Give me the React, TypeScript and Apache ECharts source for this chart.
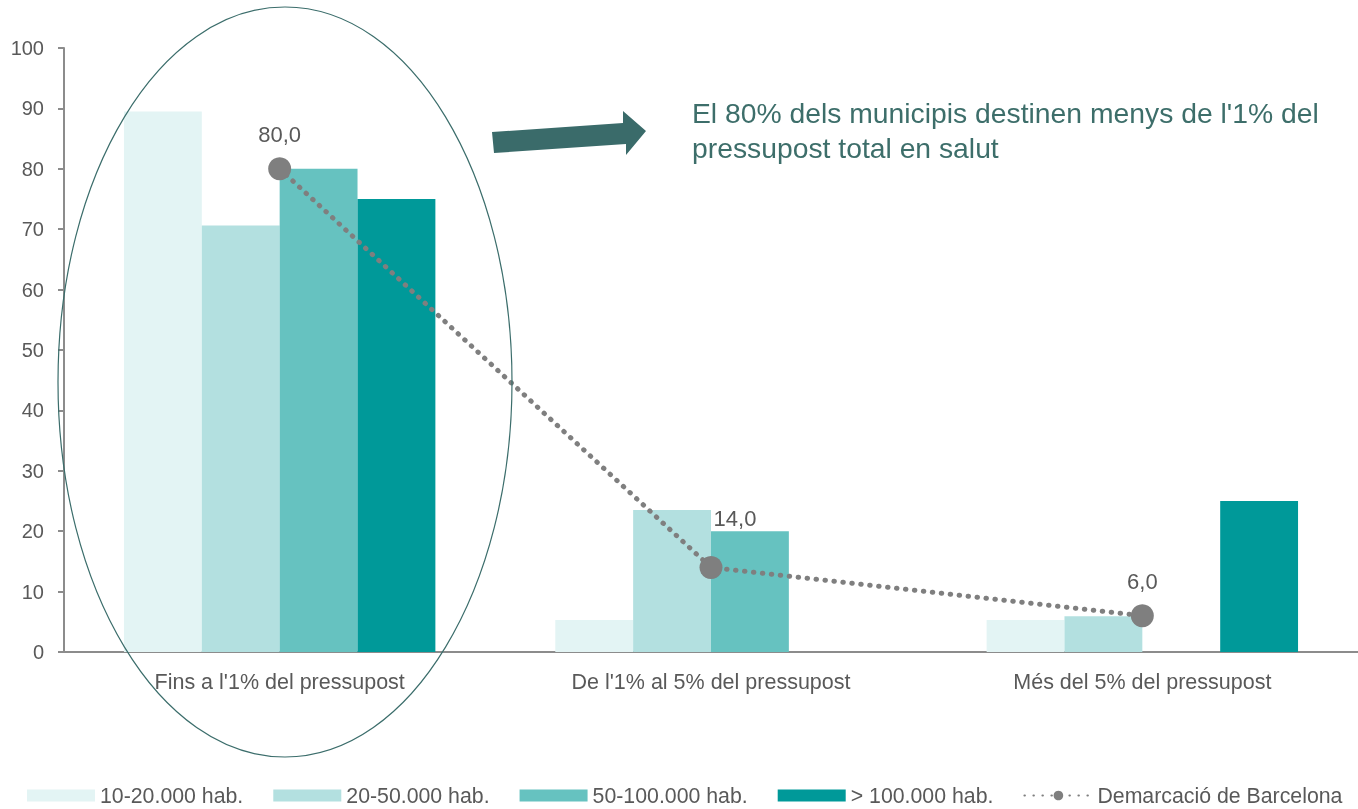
import React, { useEffect, useRef } from "react";
import * as echarts from "echarts";

const categories = [
  "Fins a l'1% del pressupost",
  "De l'1% al 5% del pressupost",
  "Més del 5% del pressupost",
];
const barSeriesNames = ["10-20.000 hab.", "20-50.000 hab.", "50-100.000 hab.", "> 100.000 hab."];
const bar10_20 = [89.5, 5.3, 5.3];
const bar20_50 = [70.6, 23.5, 5.9];
const bar50_100 = [80.0, 20.0, 0];
const bar100plus = [75.0, 0, 25.0];
const lineName = "Demarcació de Barcelona";
const lineValues = [80.0, 14.0, 6.0];
const yTicks = { min: 0, max: 100, interval: 10 };
const annotationLines = [
  "El 80% dels municipis destinen menys de l'1% del",
  "pressupost total en salut",
];

const barColors = ["#E3F4F4", "#B3E0E0", "#66C2C0", "#009999"];
const FONT = "'Liberation Sans', Arial, sans-serif";

export default function App() {
  const ref = useRef<HTMLDivElement>(null);
  useEffect(() => {
    if (!ref.current) return;
    const chart = echarts.init(ref.current, undefined, { renderer: "svg" });
    const barData = [bar10_20, bar20_50, bar50_100, bar100plus];
    const lineLabel = {
      show: true,
      position: "top",
      distance: 12,
      fontSize: 22,
      color: "#595959",
      fontFamily: FONT,
      formatter: (p: any) => p.value.toFixed(1).replace(".", ","),
    };
    const option: any = {
      animation: false,
      textStyle: { fontFamily: FONT },
      grid: { left: 64, right: -2, top: 48, bottom: 157, containLabel: false },
      legend: {
        left: 27,
        top: 785,
        width: 1331,
        padding: 0,
        itemWidth: 68,
        itemHeight: 12,
        itemGap: 30,
        textStyle: { fontSize: 21.3, color: "#595959", fontFamily: FONT },
        data: [...barSeriesNames.map((n) => ({ name: n, icon: "rect" })), { name: lineName }],
      },
      xAxis: {
        type: "category",
        data: categories,
        axisLine: { lineStyle: { color: "#8C8C8C", width: 2 } },
        axisTick: { show: false },
        axisLabel: { fontSize: 21.5, color: "#595959", margin: 19, fontFamily: FONT },
      },
      yAxis: {
        type: "value",
        min: yTicks.min,
        max: yTicks.max,
        interval: yTicks.interval,
        splitLine: { show: false },
        axisLine: { show: true, lineStyle: { color: "#8C8C8C", width: 2 } },
        axisTick: { show: true, length: 6, lineStyle: { color: "#8C8C8C", width: 2 } },
        axisLabel: { fontSize: 20, color: "#595959", margin: 20, fontFamily: FONT },
      },
      series: [
        ...barSeriesNames.map((name, i) => ({
          name,
          type: "bar",
          data: barData[i],
          barGap: "0%",
          barCategoryGap: "27.8%",
          itemStyle: { color: barColors[i] },
        })),
        {
          name: lineName,
          type: "line",
          data: lineValues.map((v, i) =>
            i === 1 ? { value: v, label: { offset: [24, -14] } } : v
          ),
          symbol: "circle",
          symbolSize: 23,
          itemStyle: { color: "#7F7F7F" },
          lineStyle: { color: "#7F7F7F", width: 5, type: [0.5, 8.5], cap: "round" },
          label: lineLabel,
          z: 5,
        },
      ],
      graphic: [
        {
          type: "ellipse",
          shape: { cx: 285, cy: 382, rx: 227, ry: 375 },
          style: { fill: "none", stroke: "#3B6D6B", lineWidth: 1.2 },
          z: 10,
        },
        {
          type: "polygon",
          shape: {
            points: [
              [492, 132],
              [623, 123],
              [623, 111],
              [646, 131],
              [626, 155],
              [626, 144],
              [494, 153],
            ],
          },
          style: { fill: "#3A6B6A" },
          z: 10,
        },
        ...annotationLines.map((t, i) => ({
          type: "text",
          x: 692,
          y: 113 + i * 35,
          style: {
            text: t,
            fontSize: 28.3,
            fill: "#3D6E6A",
            fontFamily: FONT,
            verticalAlign: "middle",
            align: "left",
          },
          z: 10,
        })),
      ],
    };
    chart.setOption(option);
    return () => chart.dispose();
  }, []);
  return (
    <div
      ref={ref}
      style={{ position: "fixed", left: 0, top: 0, width: 1358, height: 809 }}
    />
  );
}
